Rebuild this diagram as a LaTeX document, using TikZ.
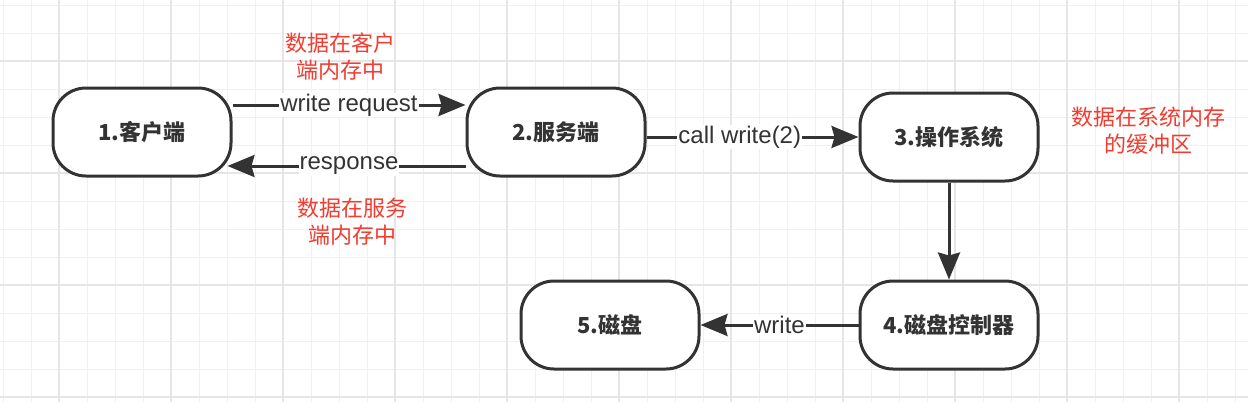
\documentclass[tikz,border=0pt]{standalone}
\usepackage{fontspec}
\setmainfont{Liberation Sans}
\newfontfamily\cjk{Noto Sans CJK SC}
\usepackage{xcolor}
\usepackage{tikz}
\usetikzlibrary{arrows.meta}
\definecolor{inkgray}{HTML}{333333}
\definecolor{notered}{HTML}{F23C30}

\begin{document}
\begin{tikzpicture}[x=1pt, y=-1pt,
  pillnode/.style={rectangle, rounded corners=33pt, draw=inkgray, fill=white, line width=3pt, minimum width=178pt, minimum height=88pt, text=inkgray, font=\cjk\bfseries\fontsize{22}{27}\selectfont},
  edgelabel/.style={fill=white, inner sep=1pt, text=inkgray, font=\fontsize{24}{28}\selectfont},
  notetext/.style={align=center, text=notered, font=\cjk\fontsize{22}{27}\selectfont},
  conn/.style={draw=inkgray, line width=3pt, -{Stealth[length=27pt, width=22pt, inset=3pt]}},
  gridminor/.style={draw=black!6, line width=1pt},
  gridmajor/.style={draw=black!10, line width=1.5pt}]

\fill[white] (0,0) rectangle (1248,402);
\useasboundingbox (0,0) rectangle (1248,402);
\foreach \x in {3,31,...,1247} \draw[gridminor] (\x,0) -- (\x,402);
\foreach \y in {5,33,...,401} \draw[gridminor] (0,\y) -- (1248,\y);
\foreach \x in {59,171,...,1179} \draw[gridmajor] (\x,0) -- (\x,402);
\foreach \y in {61,173,...,397} \draw[gridmajor] (0,\y) -- (1248,\y);

\node[pillnode] at (142,132) (client) {1.客户端};
\node[pillnode] at (556,132) (server) {2.服务端};
\node[pillnode] at (949,137) (os) {3.操作系统};
\node[pillnode] at (949,325) (ctrl) {4.磁盘控制器};
\node[pillnode] at (610,325) (disk) {5.磁盘};

\node[notetext] at (340,57) (noteclient) {数据在客户\\端内存中};
\node[notetext] at (352,222) (noteserver) {数据在服务\\端内存中};
\node[notetext] at (1148,131) (noteos) {数据在系统内存\\的缓冲区};

\draw[conn] ([yshift=27pt]client.east) -- ([yshift=27pt]server.west) node[midway, edgelabel] {write request};
\draw[conn, shorten >=-5pt] ([yshift=-34pt]server.west) -- ([yshift=-34pt]client.east) node[midway, edgelabel] {response};
\draw[conn] (server.east |- os) -- (os.west) node[pos=0.44, edgelabel] {call write(2)};
\draw[conn] (os.south) -- (ctrl.north);
\draw[conn] (ctrl.west) -- (disk.east) node[midway, edgelabel] {write};

\end{tikzpicture}
\end{document}
